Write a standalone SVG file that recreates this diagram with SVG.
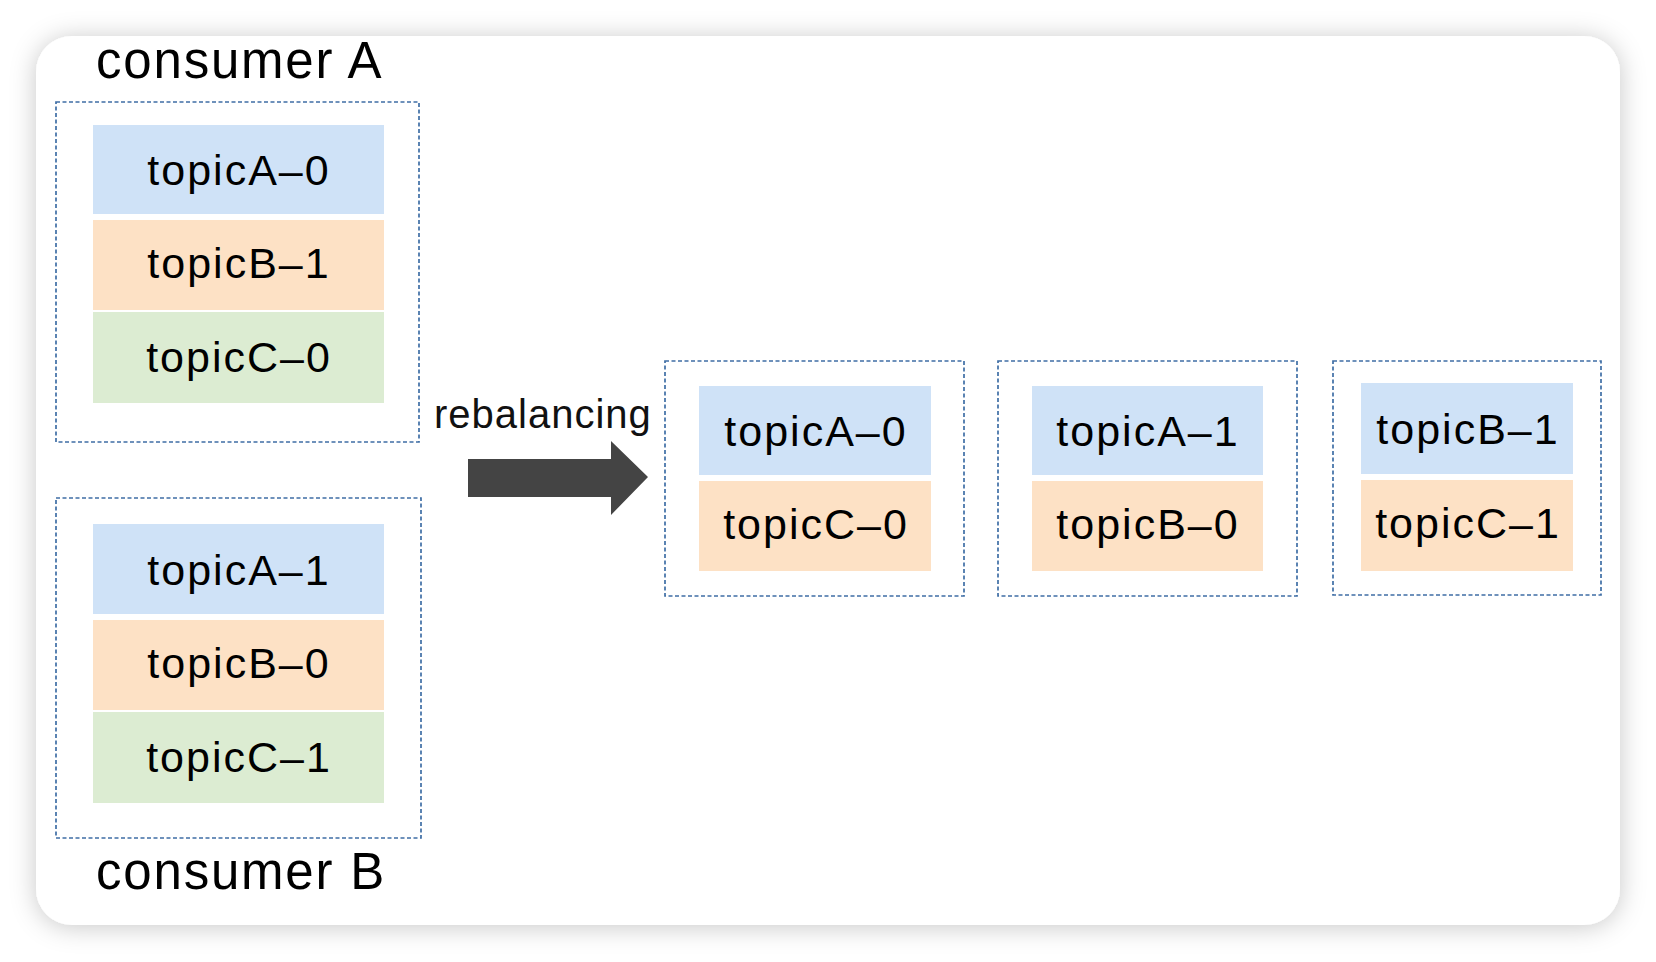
<svg xmlns="http://www.w3.org/2000/svg" width="1656" height="962" viewBox="0 0 1656 962">
<defs>
<filter id="sh" x="-10%" y="-10%" width="120%" height="120%">
<feDropShadow dx="0" dy="2" stdDeviation="13" flood-color="#000" flood-opacity="0.22"/>
</filter>
</defs>
<style>
.box{fill:none;stroke:#3f6ea5;stroke-width:1.7;stroke-dasharray:4 2.5}
.blue{fill:#cfe2f7}
.orange{fill:#fde1c5}
.green{fill:#dcecd2}
.t{font-family:"Liberation Sans",Arial,sans-serif;font-size:43px;fill:#000;text-anchor:middle;letter-spacing:2px}
.big{font-family:"Liberation Sans",Arial,sans-serif;font-size:51px;fill:#000;letter-spacing:1.8px}
.lbl{font-family:"Liberation Sans",Arial,sans-serif;font-size:40px;fill:#111;letter-spacing:1px}
</style>
<rect width="1656" height="962" fill="#fff"/>
<rect x="36" y="36" width="1584" height="889" rx="36" fill="#fff" filter="url(#sh)"/>

<g id="consumerA">
<text class="big" x="96" y="78">consumer A</text>
<rect class="box" x="56" y="102" width="363" height="340"/>
<rect class="blue" x="93" y="125" width="291" height="89"/>
<text class="t" x="239" y="185">topicA–0</text>
<rect class="orange" x="93" y="220" width="291" height="90"/>
<text class="t" x="239" y="278">topicB–1</text>
<rect class="green" x="93" y="312" width="291" height="91"/>
<text class="t" x="239" y="372">topicC–0</text>
</g>

<g id="consumerB">
<rect class="box" x="56" y="498" width="365" height="340"/>
<rect class="blue" x="93" y="524" width="291" height="90"/>
<text class="t" x="239" y="585">topicA–1</text>
<rect class="orange" x="93" y="620" width="291" height="90"/>
<text class="t" x="239" y="678">topicB–0</text>
<rect class="green" x="93" y="712" width="291" height="91"/>
<text class="t" x="239" y="772">topicC–1</text>
<text class="big" x="96" y="889">consumer B</text>
</g>

<g id="connectors">
<text class="lbl" x="434" y="428">rebalancing</text>
<polygon points="468,459 611,459 611,441 648,477 611,515 611,497 468,497" fill="#444"/>
</g>

<g id="result1">
<rect class="box" x="665" y="361" width="299" height="235"/>
<rect class="blue" x="699" y="386" width="232" height="89"/>
<text class="t" x="816" y="446">topicA–0</text>
<rect class="orange" x="699" y="481" width="232" height="90"/>
<text class="t" x="816" y="539">topicC–0</text>
</g>

<g id="result2">
<rect class="box" x="998" y="361" width="299" height="235"/>
<rect class="blue" x="1032" y="386" width="231" height="89"/>
<text class="t" x="1148" y="446">topicA–1</text>
<rect class="orange" x="1032" y="481" width="231" height="90"/>
<text class="t" x="1148" y="539">topicB–0</text>
</g>

<g id="result3">
<rect class="box" x="1333" y="361" width="268" height="234"/>
<rect class="blue" x="1361" y="383" width="212" height="91"/>
<text class="t" x="1468" y="444">topicB–1</text>
<rect class="orange" x="1361" y="480" width="212" height="91"/>
<text class="t" x="1468" y="538">topicC–1</text>
</g>
</svg>
